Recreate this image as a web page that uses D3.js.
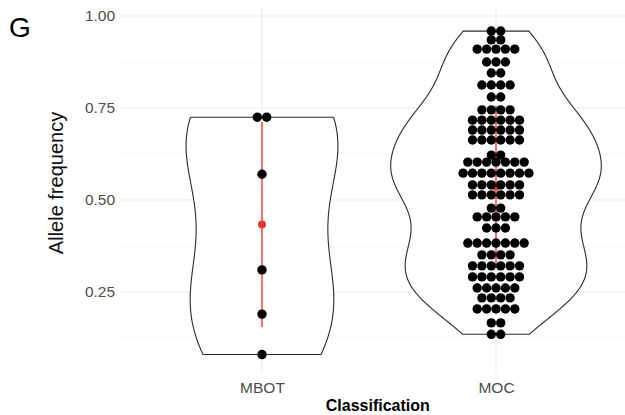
<!DOCTYPE html>
<html>
<head>
<meta charset="utf-8">
<script src="https://cdn.jsdelivr.net/npm/d3@7"></script>
<style>
  body { margin: 0; background: #fff; }
  svg text { font-family: "Liberation Sans", Arial, sans-serif; }
</style>
</head>
<body>
<div id="chart"></div>
<script>
// categories on the x axis
const groups = ["MBOT", "MOC"];

// dot rows (bin centre) and how many dots sit in each row
const mbotBins   = [0.725, 0.57, 0.31, 0.19, 0.08];
const mbotCounts = [2, 1, 1, 1, 1];

const mocBins = [0.959, 0.935, 0.910, 0.875, 0.845, 0.8125, 0.780, 0.745, 0.717, 0.690,
                 0.663, 0.622, 0.603, 0.573, 0.541, 0.514, 0.478, 0.454, 0.424, 0.383,
                 0.351, 0.321, 0.291, 0.261, 0.234, 0.204, 0.166, 0.135];
const mocCounts = [2, 2, 5, 3, 2, 4, 2, 4, 6, 6,
                   6, 2, 7, 8, 6, 6, 2, 5, 3, 7,
                   4, 6, 6, 5, 4, 5, 2, 2];

const yTicks = [0.25, 0.50, 0.75, 1.00];
const yMinor = [0.125, 0.375, 0.625, 0.875];

/** svg size / panel */
const W = 625, H = 415;
const panel = { left: 121.6, right: 636, top: 8, bottom: 373 };
const dotR = 4.7, dotStep = 9.4;

const svg = d3.select("#chart").append("svg")
  .attr("width", W)
  .attr("height", H);

const x = d3.scalePoint().domain(groups).range([262, 496]);
const band = x.step();
const y = d3.scaleLinear().domain([0.0299, 1.0217]).range([panel.bottom, panel.top]);

// expand bins into raw values
function expand(bins, counts) {
  let out = [];
  bins.forEach((b, i) => { for (let k = 0; k < counts[i]; k++) out.push(b); });
  return out.sort(d3.ascending);
}
const series = [
  { name: "MBOT", bins: mbotBins, counts: mbotCounts, values: expand(mbotBins, mbotCounts) },
  { name: "MOC",  bins: mocBins,  counts: mocCounts,  values: expand(mocBins, mocCounts) }
];

// bw.nrd0 like R
function nrd0(v) {
  const sd = d3.deviation(v);
  const iqr = d3.quantile(v, 0.75) - d3.quantile(v, 0.25);
  let lo = Math.min(sd, iqr / 1.34);
  if (!lo) lo = sd || Math.abs(v[0]) || 1;
  return 0.9 * lo * Math.pow(v.length, -0.2);
}

series.forEach(s => {
  const bw = nrd0(s.values);
  const lo = d3.min(s.values), hi = d3.max(s.values);
  s.dens = d3.range(512).map(i => {
    const t = lo + (hi - lo) * i / 511;
    const d = d3.mean(s.values, v => Math.exp(-0.5 * ((t - v) / bw) ** 2)) / (bw * Math.sqrt(2 * Math.PI));
    return { t, d };
  });
  s.mean = d3.mean(s.values);
  s.sd = d3.deviation(s.values);
});
// scale = "area"
const maxD = d3.max(series, s => d3.max(s.dens, p => p.d));

/** grid */
const grid = svg.append("g");
grid.selectAll("line.minor")
  .data(yMinor)
  .enter().append("line")
  .attr("x1", panel.left).attr("x2", panel.right)
  .attr("y1", d => y(d)).attr("y2", d => y(d))
  .attr("stroke", "#f2f2f2").attr("stroke-width", 0.8);
grid.selectAll("line.major")
  .data(yTicks)
  .enter().append("line")
  .attr("x1", panel.left).attr("x2", panel.right)
  .attr("y1", d => y(d)).attr("y2", d => y(d))
  .attr("stroke", "#ebebeb").attr("stroke-width", 1.1);
grid.selectAll("line.vert")
  .data(groups)
  .enter().append("line")
  .attr("x1", d => x(d)).attr("x2", d => x(d))
  .attr("y1", panel.top).attr("y2", panel.bottom)
  .attr("stroke", "#ebebeb").attr("stroke-width", 1.1);

/** violins */
svg.append("g").selectAll("path")
  .data(series)
  .enter().append("path")
  .attr("d", s => {
    const cx = x(s.name);
    return d3.area()
      .x0(p => cx - p.d / maxD * 0.45 * band)
      .x1(p => cx + p.d / maxD * 0.45 * band)
      .y(p => y(p.t))(s.dens);
  })
  .attr("fill", "#fff")
  .attr("stroke", "#2b2b2b")
  .attr("stroke-width", 1.1);

/** mean +/- sd */
const red = "#e63b2e";
const summ = svg.append("g");
summ.selectAll("line")
  .data(series)
  .enter().append("line")
  .attr("x1", s => x(s.name)).attr("x2", s => x(s.name))
  .attr("y1", s => y(s.mean + s.sd)).attr("y2", s => y(s.mean - s.sd))
  .attr("stroke", red).attr("stroke-width", 1.4);
summ.selectAll("circle")
  .data(series)
  .enter().append("circle")
  .attr("cx", s => x(s.name)).attr("cy", s => y(s.mean))
  .attr("r", 4)
  .attr("fill", red);

/** dots, stacked centred */
const dots = [];
series.forEach(s => {
  s.bins.forEach((b, i) => {
    const n = s.counts[i];
    for (let k = 0; k < n; k++) {
      dots.push({ cx: x(s.name) + (k - (n - 1) / 2) * dotStep, v: b });
    }
  });
});
svg.append("g").selectAll("circle")
  .data(dots)
  .enter().append("circle")
  .attr("cx", d => d.cx)
  .attr("cy", d => y(d.v))
  .attr("r", dotR)
  .attr("fill", "#000");

/** axes */
const yAxis = svg.append("g")
  .attr("transform", "translate(" + panel.left + ",0)")
  .call(d3.axisLeft(y).tickValues(yTicks).tickFormat(d3.format(".2f")).tickSize(0).tickPadding(6.5));
yAxis.select(".domain").remove();
yAxis.selectAll("text").attr("font-size", 15.5).attr("fill", "#4d4d4d")
  .attr("font-family", "Liberation Sans, Arial, sans-serif");

const xAxis = svg.append("g")
  .attr("transform", "translate(0," + panel.bottom + ")")
  .call(d3.axisBottom(x).tickSize(0).tickPadding(9));
xAxis.select(".domain").remove();
xAxis.selectAll("text").attr("font-size", 15.5).attr("fill", "#4d4d4d")
  .attr("font-family", "Liberation Sans, Arial, sans-serif");

svg.append("text")
  .attr("x", (panel.left + panel.right) / 2 - 1)
  .attr("y", 411)
  .attr("text-anchor", "middle")
  .attr("font-size", 16)
  .attr("font-weight", "bold")
  .attr("fill", "#000")
  .text("Classification");

svg.append("text")
  .attr("transform", "translate(63,183) rotate(-90)")
  .attr("text-anchor", "middle")
  .attr("font-size", 20)
  .attr("fill", "#111")
  .text("Allele frequency");

svg.append("text")
  .attr("x", 9)
  .attr("y", 37)
  .attr("font-size", 28)
  .attr("fill", "#000")
  .text("G");
</script>
</body>
</html>
